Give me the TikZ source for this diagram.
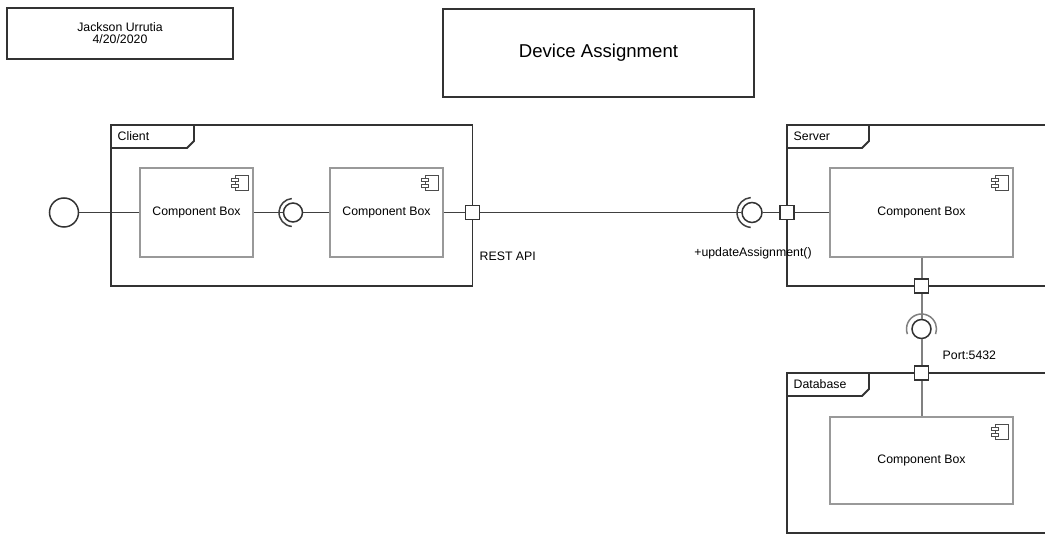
\documentclass[tikz,border=0pt]{standalone}
\usepackage{fontspec}
\setmainfont{Liberation Sans}

\newcommand{\compicon}[1]{%
  \draw[black!70, line width=0.9pt, fill=white] ([shift={(-18,8)}]#1.north east) rectangle ([shift={(-5,23)}]#1.north east);
  \draw[black!70, line width=0.9pt, fill=white] ([shift={(-22,11)}]#1.north east) rectangle ([shift={(-15,14)}]#1.north east);
  \draw[black!70, line width=0.9pt, fill=white] ([shift={(-22,17)}]#1.north east) rectangle ([shift={(-15,20)}]#1.north east);
}

\begin{document}
\begin{tikzpicture}[x=1pt, y=-1pt, thick, font=\fontsize{12.3}{12}\selectfont]
        \tikzstyle{frame} = [draw=black!80, line width=1.8pt]
        \tikzstyle{comp} = [rectangle, draw=black!40, line width=1.5pt, fill=white, minimum width=113pt, minimum height=89pt, inner sep=0pt]
        \tikzstyle{port} = [rectangle, draw=black!80, fill=white, line width=1.3pt, minimum size=14pt, inner sep=0pt]
        \tikzstyle{ball} = [circle, draw=black!80, fill=white, line width=1.5pt, minimum size=19pt, inner sep=0pt]
        \tikzstyle{wire} = [draw=black!75, line width=1.3pt]
        \tikzstyle{vwire} = [draw=black!50, line width=2pt]
        \useasboundingbox (0,0) rectangle (1045,534);

        % header boxes
        \node[draw=black!80, line width=1.5pt, minimum width=226pt, minimum height=51pt, align=center] (author) at (120,33.5) {Jackson Urrutia\\4/20/2020};
        \node[draw=black!80, line width=1.5pt, minimum width=311pt, minimum height=88pt, font=\fontsize{18.6}{20}\selectfont] (title) at (598.5,53) {Device Assignment};

        % nodes
        \node[comp] (clientA) at (196.5,212.5) {Component Box};
        \node[comp] (clientB) at (386.5,212.5) {Component Box};
        \node[comp, minimum width=183pt] (serverBox) at (921.5,212.5) {Component Box};
        \node[comp, minimum width=183pt, minimum height=87pt] (dbBox) at (921.5,460.5) {Component Box};
        \node[ball, minimum size=29pt] (provided) at (64,212.5) {};
        \node[ball] (clientBall) at (293,212.5) {};
        \node[ball, minimum size=20pt] (restBall) at (752,212.5) {};
        \node[ball] (dbBall) at (921.5,329) {};
        \node[port] (restPort) at (472.5,212.5) {};
        \node[port] (serverPort) at (787,212.5) {};
        \node[port] (serverDown) at (921.5,286) {};
        \node[port] (dbPort) at (921.5,373) {};

        % wires
        \draw[wire] (provided) -- (clientA);
        \draw[wire] (clientA) -- (clientBall);
        \draw[wire] (clientBall) -- (clientB);
        \draw[wire] (clientB) -- (restPort);
        \draw[wire] (restPort) -- (restBall);
        \draw[wire] (restBall) -- (serverPort);
        \draw[wire] (serverPort) -- (serverBox);
        \draw[vwire] (serverBox) -- (serverDown);
        \draw[vwire] (serverDown) -- (dbBall);
        \draw[vwire] (dbBall) -- (dbPort);
        \draw[vwire] (dbPort) -- (dbBox);

        % sockets
        \draw[wire, line width=1.5pt] (clientBall.center) ++(95:14) arc[start angle=95, end angle=265, radius=14];
        \draw[wire, line width=1.5pt] (restBall.center) ++(95:15) arc[start angle=95, end angle=265, radius=15];
        \draw[vwire, line width=1.5pt] (dbBall.center) ++(160:15) arc[start angle=160, end angle=380, radius=15];

        % frames
        \draw[frame] (111,125) rectangle (472.5,286);
        \draw[frame] (111,148) -- (187,148) -- (194,141) -- (194,125);
        \node[anchor=west] (clientTab) at (114,136) {Client};
        \draw[frame] (1046,125) -- (787,125) -- (787,286) -- (1046,286);
        \draw[frame] (787,148) -- (862,148) -- (869,141) -- (869,125);
        \node[anchor=west] (serverTab) at (790,136) {Server};
        \draw[frame] (1046,373) -- (787,373) -- (787,533) -- (1046,533);
        \draw[frame] (787,396) -- (862,396) -- (869,389) -- (869,373);
        \node[anchor=west] (dbTab) at (790,384) {Database};

        % ports on top of frames
        \node[port] at (restPort) {};
        \node[port] at (serverPort) {};
        \node[port] at (serverDown) {};
        \node[port] at (dbPort) {};

        % icons
        \compicon{clientA}
        \compicon{clientB}
        \compicon{serverBox}
        \compicon{dbBox}

        % labels
        \node[anchor=west] (restLabel) at (476,256) {REST API};
        \node (updateLabel) at (753,253) {+updateAssignment()};
        \node[anchor=west] (portLabel) at (939,355) {Port:5432};
    \end{tikzpicture}
\end{document}
